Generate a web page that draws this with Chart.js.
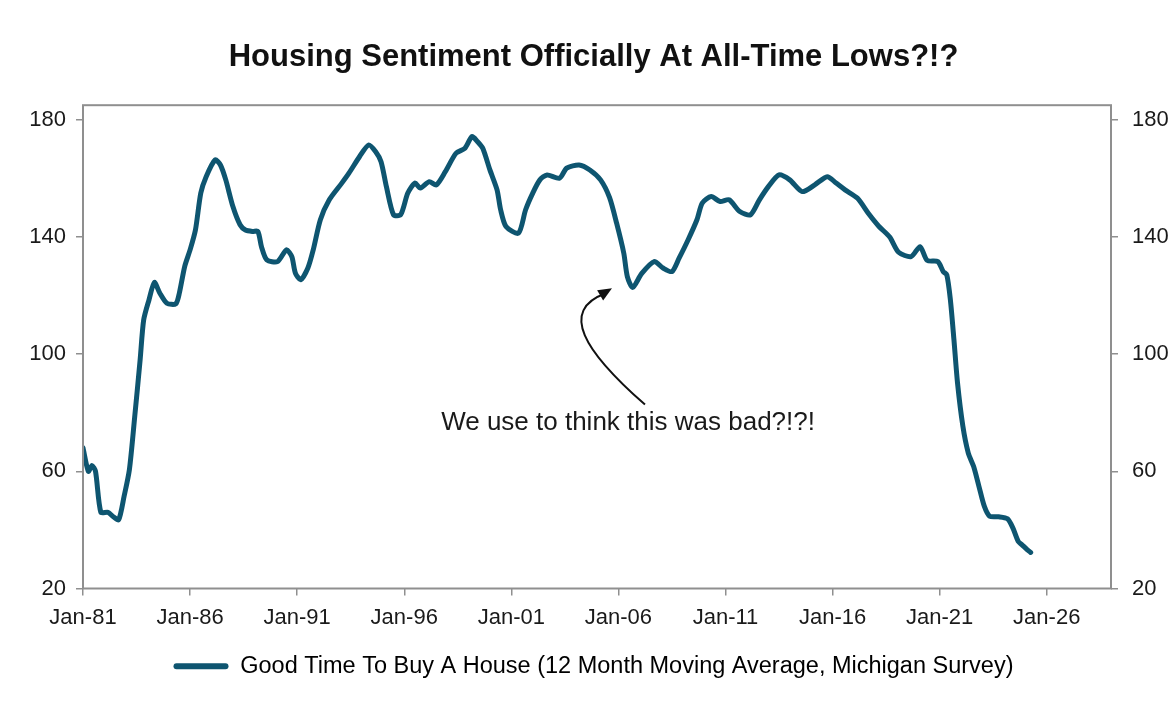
<!DOCTYPE html>
<html>
<head>
<meta charset="utf-8">
<script src="https://cdn.jsdelivr.net/npm/chart.js@4.4.1/dist/chart.umd.min.js"></script>
<style>
  html, body { margin: 0; padding: 0; background: #fff; }
  #wrap { width: 1175px; height: 711px; }
</style>
</head>
<body>
<div id="wrap"><canvas id="myChart"></canvas></div>
<script>
// datos (media movil de 12 meses)
const months = [
  '1981-01','1981-04','1981-06','1981-08','1981-11','1982-03','1982-06','1982-09','1982-12',
  '1983-03','1983-06','1983-09','1983-11','1984-02','1984-05','1984-08','1984-12','1985-05',
  '1985-07','1985-10','1986-01','1986-04','1986-07','1986-10','1987-03','1987-06','1987-09',
  '1988-01','1988-05','1988-08','1988-12','1989-03','1989-05','1989-08','1990-02','1990-07',
  '1990-10','1990-12','1991-03','1991-07','1991-10','1992-02','1992-07','1993-02','1993-06',
  '1993-12','1994-05','1994-09','1994-12','1995-03','1995-07','1995-11','1996-03','1996-07',
  '1996-10','1997-03','1997-07','1997-12','1998-06','1998-11','1999-03','1999-06','1999-09',
  '2000-01','2000-05','2000-07','2000-10','2001-05','2001-09','2002-01','2002-05','2002-09',
  '2003-04','2003-08','2004-03','2004-09','2005-03','2005-08','2005-12','2006-04','2006-06',
  '2006-09','2007-02','2007-09','2008-02','2008-07','2008-11','2009-04','2009-09','2009-12',
  '2010-05','2010-10','2011-03','2011-09','2012-03','2012-08','2013-01','2013-07','2014-01',
  '2014-08','2015-03','2015-10','2016-03','2016-08','2017-03','2017-09','2018-03','2018-09',
  '2019-02','2019-09','2020-02','2020-06','2020-12','2021-03','2021-05','2021-07','2021-09',
  '2021-11','2022-02','2022-05','2022-08','2022-11','2023-02','2023-05','2023-10','2024-03',
  '2024-06','2024-09','2024-11','2025-02','2025-04'
]
const goodTimeToBuy = [
  68, 60, 62, 60, 46, 46, 44.5, 43.5, 51.4,
  60.6, 78.8, 98, 111.7, 118.6, 124.5, 120.9, 117.4, 117.2,
  120.9, 130, 135.6, 142.4, 155, 160.6, 166.3, 164.6, 159.5,
  150.4, 144.2, 142.4, 141.9, 141.9, 136.7, 132.2, 131.6, 135.6,
  133.3, 127.7, 125.4, 129.4, 135.6, 145.9, 152.7, 158.4, 161.8,
  167.5, 171.4, 169.1, 165.7, 157.2, 147.6, 147.6, 155, 158.4,
  156.7, 158.9, 157.8, 162.3, 168.6, 170.3, 174.3, 172.6, 170.3,
  162.9, 156.1, 149.3, 143.6, 141.3, 149.3, 155, 159.5, 161.2,
  160.1, 163.5, 164.6, 162.9, 159.5, 153.5, 144.7, 134.5, 126.5,
  122.8, 127.5, 131.6, 129.4, 128.2, 132.8, 139, 145.9, 151.6,
  153.8, 152.1, 152.7, 148.7, 147.6, 152.7, 157.2, 161.2, 159.5,
  155.5, 157.8, 160.6, 158.4, 156.1, 153.2, 148.1, 143.6, 140,
  134.8, 133.3, 136.7, 132, 131.6, 128.2, 127.1, 118.6, 104.9,
  90.2, 75.4, 66.3, 61.7, 54.9, 48.1, 44.7, 44.5, 43.8,
  40.7, 36.1, 35, 33.3, 32.3
]
const xTickYears = [1981, 1986, 1991, 1996, 2001, 2006, 2011, 2016, 2021, 2026]
const yTicks = [20, 60, 100, 140, 180]

const lineColor = '#0e5570'
const axisColor = '#8f8f8f'
const fontFamily = "'Liberation Sans', Arial, sans-serif"

// "1981-04" -> 1981.25
const toYear = m => {
    const [y, mo] = m.split('-').map(Number)
    return y + (mo - 1) / 12
}

// marco del grafico + anotacion con flecha
const extras = {
    id: 'extras',
    afterDatasetsDraw(chart) {
        const { ctx, chartArea, scales } = chart
        const x = scales.x, y = scales.y
        ctx.save()
        ctx.strokeStyle = axisColor
        ctx.lineWidth = 2
        ctx.strokeRect(chartArea.left, chartArea.top, chartArea.right - chartArea.left, chartArea.bottom - chartArea.top)

        // flecha curva (en unidades de datos)
        const p0 = [x.getPixelForValue(2007.24), y.getPixelForValue(82.8)]
        const c1 = [x.getPixelForValue(2004.4), y.getPixelForValue(101)]
        const c2 = [x.getPixelForValue(2003.2), y.getPixelForValue(115)]
        const p1 = [x.getPixelForValue(2005.7), y.getPixelForValue(122.5)]
        ctx.strokeStyle = '#111'
        ctx.lineWidth = 2
        ctx.beginPath()
        ctx.moveTo(p0[0], p0[1])
        ctx.bezierCurveTo(c1[0], c1[1], c2[0], c2[1], p1[0] - 6, p1[1] + 5)
        ctx.stroke()
        const ang = Math.atan2(p1[1] - c2[1], p1[0] - c2[0]) - 0.15
        ctx.fillStyle = '#111'
        ctx.beginPath()
        ctx.moveTo(p1[0], p1[1])
        ctx.lineTo(p1[0] - 15 * Math.cos(ang - 0.4), p1[1] - 15 * Math.sin(ang - 0.4))
        ctx.lineTo(p1[0] - 15 * Math.cos(ang + 0.4), p1[1] - 15 * Math.sin(ang + 0.4))
        ctx.closePath()
        ctx.fill()

        ctx.font = '26px ' + fontFamily
        ctx.fillStyle = '#1a1a1a'
        ctx.textAlign = 'center'
        ctx.textBaseline = 'middle'
        ctx.fillText('We use to think this was bad?!?!', x.getPixelForValue(2006.45), y.getPixelForValue(76.5))
        ctx.restore()
    }
}

const tickFont = { family: fontFamily, size: 22 }

const yAxis = (position, width, pad) => ({
    type: 'linear',
    position,
    min: 20,
    max: 185,
    afterBuildTicks: axis => { axis.ticks = yTicks.map(v => ({ value: v })) },
    afterFit: axis => { axis.width = width },
    border: { display: false },
    grid: { drawOnChartArea: false, drawTicks: true, tickLength: 7, color: axisColor, lineWidth: 1.5 },
    ticks: { color: '#1a1a1a', font: tickFont, padding: pad }
})

const ctx = document.getElementById('myChart')

new Chart(ctx, {
    type: 'line',
    data: {
        datasets: [{
            label: 'Good Time To Buy A House (12 Month Moving Average, Michigan Survey)',
            data: months.map((m, i) => ({ x: toYear(m), y: goodTimeToBuy[i] })),
            borderColor: lineColor,
            backgroundColor: lineColor,
            borderWidth: 5,
            pointRadius: 0,
            tension: 0.25,
            borderJoinStyle: 'round',
            borderCapStyle: 'round'
        }]
    },
    options: {
        responsive: true,
        maintainAspectRatio: false,
        animation: false,
        layout: { padding: { left: 12, right: 0, top: 0, bottom: 23 } },
        scales: {
            x: {
                type: 'linear',
                min: 1981,
                max: 2029,
                afterBuildTicks: axis => { axis.ticks = xTickYears.map(v => ({ value: v })) },
                afterFit: axis => { axis.height = 49 },
                border: { display: false },
                grid: { drawOnChartArea: false, drawTicks: true, tickLength: 7, color: axisColor, lineWidth: 1.5 },
                ticks: {
                    color: '#1a1a1a',
                    font: tickFont,
                    padding: 9,
                    maxRotation: 0,
                    autoSkip: false,
                    callback: v => 'Jan-' + String(v).slice(2)
                }
            },
            y: yAxis('left', 71, 10),
            y2: yAxis('right', 64, 14)
        },
        plugins: {
            title: {
                display: true,
                text: 'Housing Sentiment Officially At All-Time Lows?!?',
                color: '#111',
                font: { family: fontFamily, size: 31, weight: 'bold' },
                padding: { top: 39, bottom: 29 }
            },
            legend: {
                position: 'bottom',
                labels: {
                    color: '#333',
                    font: { family: fontFamily, size: 23.5 },
                    boxWidth: 55,
                    boxHeight: 6,
                    padding: 17,
                    generateLabels: chart => [{
                        text: chart.data.datasets[0].label,
                        fillStyle: lineColor,
                        strokeStyle: lineColor,
                        lineWidth: 0,
                        borderRadius: 3,
                        hidden: false,
                        datasetIndex: 0
                    }]
                }
            },
            tooltip: { enabled: false }
        }
    },
    plugins: [extras]
})
</script>
</body>
</html>
